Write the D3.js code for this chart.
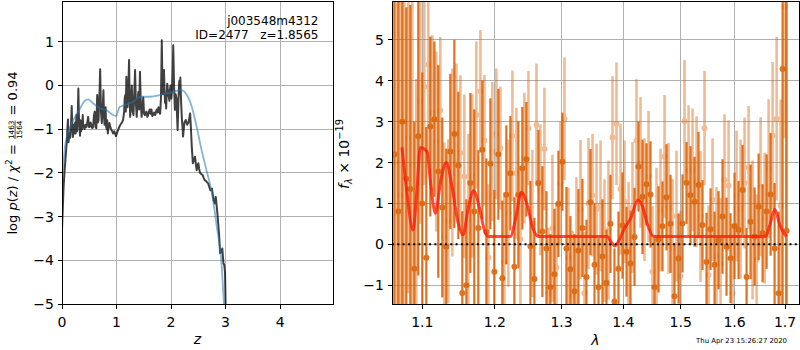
<!DOCTYPE html>
<html>
<head>
<meta charset="utf-8">
<script src="https://cdn.jsdelivr.net/npm/d3@7"></script>
<style>
  body { margin: 0; background: #fff; }
  svg { font-family: "DejaVu Sans", sans-serif; }
  text { white-space: pre; }
</style>
</head>
<body>
<svg id="fig" width="800" height="350"></svg>
<script>
// ---- left panel: log p(z), [z, log p] ----
const pzCurve = [[0.000, -3.30], [0.015, -2.80], [0.030, -2.30], [0.045, -2.00], [0.060, -1.75],
    [0.075, -1.50], [0.090, -1.25], [0.100, -0.95], [0.110, -0.78], [0.120, -1.30],
    [0.135, -1.10], [0.150, -1.20], [0.165, -0.90], [0.178, -0.47], [0.190, -1.00],
    [0.200, -1.18], [0.212, -0.90], [0.225, -1.10], [0.240, -0.85], [0.250, -1.10],
    [0.265, -0.68], [0.275, -1.05], [0.285, -0.90], [0.300, -0.07], [0.310, -0.70],
    [0.320, -0.95], [0.330, -1.15], [0.340, -0.80], [0.350, -1.05], [0.360, -0.95],
    [0.370, -1.00], [0.380, -0.68], [0.390, -0.95], [0.400, -0.92], [0.415, -1.00],
    [0.430, -0.90], [0.450, -0.95], [0.465, -0.85], [0.480, -0.72], [0.495, -0.95],
    [0.510, -0.95], [0.525, -0.85], [0.540, -0.92], [0.555, -0.98], [0.570, -0.95],
    [0.585, -0.70], [0.600, -0.60], [0.615, -0.95], [0.630, -0.98], [0.645, -0.22],
    [0.655, -0.85], [0.670, -0.80], [0.680, -0.40], [0.690, -0.10], [0.700, 0.37],
    [0.710, -0.30], [0.715, -0.60], [0.730, -0.86], [0.745, -0.55], [0.760, -0.11],
    [0.770, -0.70], [0.780, -0.90], [0.790, -0.60], [0.800, -0.50], [0.810, -0.95],
    [0.820, -1.00], [0.830, -0.80], [0.840, -1.10], [0.855, -0.95], [0.870, -0.86],
    [0.885, -0.95], [0.900, -1.00], [0.920, -1.05], [0.940, -1.10], [0.960, -1.05],
    [0.990, -1.16], [1.020, -1.05], [1.050, -0.95], [1.080, -0.88], [1.100, -0.85],
    [1.120, -0.79], [1.140, -0.60], [1.150, -0.30], [1.160, -0.22], [1.170, -0.60],
    [1.180, 0.20], [1.190, -0.20], [1.200, -0.50], [1.215, -0.10], [1.230, 0.58],
    [1.240, -0.30], [1.250, -0.72], [1.265, -0.40], [1.280, 0.00], [1.295, -0.60],
    [1.310, -0.68], [1.325, -0.20], [1.340, 0.35], [1.355, -0.40], [1.370, -0.72],
    [1.385, -0.40], [1.400, -0.15], [1.415, -0.55], [1.430, 0.31], [1.445, -0.40],
    [1.460, -0.72], [1.475, -0.50], [1.490, -0.27], [1.505, -0.65], [1.520, -0.68],
    [1.535, -0.62], [1.550, -0.60], [1.565, -0.72], [1.580, -0.68], [1.595, -0.60],
    [1.610, -0.55], [1.625, -0.65], [1.640, -0.55], [1.655, -0.70], [1.670, -0.68],
    [1.690, -0.62], [1.710, -0.68], [1.725, -0.60], [1.740, -0.55], [1.755, -0.62],
    [1.770, -0.50], [1.785, -0.60], [1.800, -0.65], [1.815, -0.30], [1.830, 1.03],
    [1.840, 0.20], [1.850, -0.20], [1.860, -0.05], [1.870, 0.35], [1.880, -0.10],
    [1.890, -0.40], [1.900, -0.30], [1.910, -0.53], [1.920, -0.20], [1.930, 0.04],
    [1.950, -0.20], [1.970, -0.35], [1.980, -0.10], [1.990, 0.00], [2.005, -0.30],
    [2.020, -0.10], [2.030, 0.30], [2.040, 0.92], [2.055, 0.00], [2.070, -0.56],
    [2.085, -0.20], [2.100, -0.30], [2.110, -0.70], [2.120, -1.02], [2.135, -0.40],
    [2.150, 0.10], [2.160, -0.20], [2.170, 0.18], [2.185, -0.40], [2.200, -0.80],
    [2.210, -0.95], [2.220, -1.17], [2.245, -0.85], [2.270, -0.79], [2.295, -0.90],
    [2.320, -0.85], [2.335, -0.75], [2.350, -0.64], [2.365, -1.00], [2.380, -1.40],
    [2.400, -1.78], [2.420, -1.70], [2.440, -1.63], [2.455, -1.80], [2.470, -1.94],
    [2.485, -1.85], [2.500, -1.78], [2.515, -1.90], [2.530, -2.00], [2.555, -2.03],
    [2.580, -2.05], [2.600, -2.12], [2.620, -2.17], [2.650, -2.20], [2.680, -2.24],
    [2.700, -2.32], [2.720, -2.40], [2.750, -2.36], [2.765, -2.50], [2.780, -2.62],
    [2.800, -2.70], [2.820, -2.55], [2.850, -2.93], [2.880, -3.39], [2.900, -3.84],
    [2.920, -3.80], [2.940, -3.73], [2.960, -4.07], [2.975, -4.10], [2.990, -4.28],
    [3.000, -5.00], [3.010, -5.50]];
const pzSmooth = [[0.00, -2.20], [0.01, -2.09], [0.055, -1.40], [0.15, -0.95], [0.24, -0.72],
    [0.33, -0.53], [0.42, -0.35], [0.48, -0.32], [0.57, -0.41], [0.70, -0.53],
    [0.82, -0.57], [0.94, -0.68], [0.99, -0.70], [1.06, -0.49], [1.15, -0.45],
    [1.31, -0.37], [1.43, -0.26], [1.61, -0.26], [1.80, -0.22], [1.92, -0.18],
    [2.04, -0.15], [2.18, -0.11], [2.29, -0.22], [2.38, -0.49], [2.47, -0.95],
    [2.56, -1.48], [2.65, -1.94], [2.75, -2.47], [2.84, -3.24], [2.93, -4.15],
    [2.97, -5.00], [2.99, -5.40]];
const zTicks = [0, 1, 2, 3, 4];
const pzTicks = [-5, -4, -3, -2, -1, 0, 1];

// ---- right panel: spectrum, two grism sets ----
const waveA = [1.0637, 1.0688, 1.0739, 1.0791, 1.0843, 1.0895, 1.0947, 1.1000, 1.1053, 1.1106,
    1.1160, 1.1213, 1.1267, 1.1321, 1.1376, 1.1431, 1.1486, 1.1541, 1.1597, 1.1653,
    1.1708, 1.1765, 1.1822, 1.1879, 1.1936, 1.1993, 1.2051, 1.2109, 1.2167, 1.2226,
    1.2285, 1.2344, 1.2403, 1.2463, 1.2524, 1.2584, 1.2645, 1.2705, 1.2767, 1.2828,
    1.2890, 1.2952, 1.3014, 1.3077, 1.3140, 1.3203, 1.3267, 1.3331, 1.3395, 1.3460,
    1.3525, 1.3590, 1.3655, 1.3721, 1.3787, 1.3853, 1.3920, 1.3987, 1.4055, 1.4122,
    1.4190, 1.4258, 1.4327, 1.4396, 1.4465, 1.4535, 1.4605, 1.4675, 1.4746, 1.4817,
    1.4888, 1.4960, 1.5032, 1.5104, 1.5177, 1.5250, 1.5323, 1.5397, 1.5471, 1.5546,
    1.5621, 1.5696, 1.5771, 1.5847, 1.5924, 1.6000, 1.6077, 1.6155, 1.6233, 1.6311,
    1.6390, 1.6469, 1.6548, 1.6628, 1.6708, 1.6788, 1.6869, 1.6950, 1.7032];
const fluxA = [2.2, 0.8, 3.0, 1.6, 1.35, -0.6, 2.64, 1.0, -0.33, 2.88,
    3.06, 1.78, 0.9, -0.06, 2.27, 2.7, 1.93, -1.19, -1.0, 1.5,
    0.8, 0.4, 2.31, 0.3, 1.97, -0.67, 2.2, -0.83, 1.21, 1.74,
    -0.55, 1.21, 1.86, 2.08, -0.05, -0.85, 1.5, 0.31, -0.1, -1.05,
    -0.73, 0.99, 2.02, -0.1, -0.61, -1.15, -0.15, 0.4, -0.8, 1.03,
    -0.5, -1.05, -0.3, -0.94, 0.5, -1.4, -0.6, 0.46, -0.18, -0.47,
    0.18, 1.9, 1.16, 1.47, 1.22, -1.05, 0.12, 0.44, 1.15, 0.5,
    -1.27, -0.35, 0.51, 1.5, 1.2, 1.04, 1.45, 0.47, -0.43, 0.37,
    -0.5, 0.1, 0.68, -0.06, -0.34, 0.45, 0.35, 1.33, -0.8, 0.55,
    0.19, 0.92, 0.27, 0.8, 1.22, -0.1, -1.2, 4.29, 0.33];
const errA = [6.0, 5.5, 5.0, 4.2, 4.5, 3.6, 3.4, 3.2, 3.2, 2.2,
    1.9, 2.6, 2.2, 2.4, 1.9, 2.3, 1.8, 2.0, 2.1, 2.2,
    2.5, 1.9, 1.7, 1.8, 1.6, 2.0, 1.6, 1.9, 1.7, 1.4,
    1.7, 1.8, 1.5, 1.4, 1.6, 1.5, 1.3, 1.6, 1.4, 1.3,
    1.6, 1.3, 1.2, 1.5, 1.3, 1.4, 1.5, 1.2, 1.4, 1.3,
    1.5, 1.2, 1.4, 1.3, 1.2, 1.3, 1.4, 1.3, 1.1, 1.3,
    1.2, 1.1, 1.4, 1.0, 1.3, 1.2, 1.3, 1.1, 1.3, 1.2,
    1.3, 1.1, 1.2, 1.0, 1.2, 1.1, 1.3, 1.1, 1.2, 1.0,
    1.3, 1.2, 1.4, 1.2, 1.1, 1.3, 1.2, 1.1, 1.2, 1.4,
    1.2, 1.3, 1.2, 1.4, 1.5, 1.6, 2.0, 6.5, 7.0];

const waveB = [1.0663, 1.0714, 1.0765, 1.0817, 1.0869, 1.0921, 1.0974, 1.1027, 1.1080, 1.1133,
    1.1187, 1.1240, 1.1294, 1.1349, 1.1404, 1.1459, 1.1514, 1.1569, 1.1625, 1.1681,
    1.1737, 1.1794, 1.1851, 1.1908, 1.1965, 1.2022, 1.2080, 1.2138, 1.2197, 1.2256,
    1.2315, 1.2374, 1.2433, 1.2494, 1.2554, 1.2615, 1.2675, 1.2736, 1.2798, 1.2859,
    1.2921, 1.2983, 1.3046, 1.3109, 1.3172, 1.3235, 1.3299, 1.3363, 1.3428, 1.3493,
    1.3558, 1.3623, 1.3688, 1.3754, 1.3820, 1.3887, 1.3954, 1.4021, 1.4089, 1.4156,
    1.4224, 1.4293, 1.4362, 1.4431, 1.4500, 1.4570, 1.4640, 1.4711, 1.4782, 1.4853,
    1.4924, 1.4996, 1.5068, 1.5141, 1.5214, 1.5287, 1.5360, 1.5434, 1.5509, 1.5583,
    1.5658, 1.5734, 1.5809, 1.5886, 1.5962, 1.6039, 1.6116, 1.6194, 1.6272, 1.6350,
    1.6429, 1.6508, 1.6588, 1.6668, 1.6748, 1.6829, 1.6910, 1.6991];
const fluxB = [2.0, 1.2, 3.0, 2.6, 1.93, 0.84, 3.5, 3.85, 4.4, 3.21,
    2.51, 3.27, 0.19, 0.57, 2.0, 2.72, 2.23, 1.66, 0.6, 1.67,
    3.16, 3.74, 2.54, -0.33, 2.27, 2.7, 2.35, -0.43, 0.76, 2.65,
    1.74, 0.12, 2.11, 2.84, 0.51, 2.92, 1.33, 2.33, -1.2, 0.39,
    -0.57, 1.5, 3.07, -0.32, -1.27, -0.16, 0.85, -1.2, 1.0, 1.2,
    0.86, 0.94, 0.09, 0.35, 2.61, 2.95, 1.35, 1.04, -0.18, 0.9,
    2.54, 2.0, 1.09, 1.66, -0.67, 0.17, 0.84, 2.15, 0.88, -0.1,
    0.69, -0.78, 3.01, 1.8, 1.82, 1.53, 0.68, 2.84, -0.75, 1.09,
    -0.3, -0.47, 1.58, 1.43, -1.2, 1.18, 0.86, 1.5, 1.88, 0.35,
    -0.38, 1.41, 0.64, 1.85, 2.66, 3.07, 0.94, 5.8];
const errB = [5.5, 5.0, 4.5, 3.8, 4.0, 3.2, 3.0, 2.4, 2.3, 1.9,
    2.2, 1.8, 2.3, 2.0, 2.3, 1.7, 1.9, 2.0, 2.1, 2.0,
    1.8, 1.5, 1.6, 1.8, 1.7, 1.6, 1.5, 1.7, 1.8, 1.6,
    1.6, 1.8, 1.6, 1.4, 1.8, 1.5, 1.6, 1.5, 1.6, 1.8,
    1.6, 1.5, 1.5, 1.7, 1.6, 1.8, 1.7, 1.5, 1.6, 1.5,
    1.6, 1.6, 1.5, 1.7, 1.5, 1.5, 1.6, 1.5, 1.7, 1.6,
    1.5, 1.6, 1.5, 1.6, 1.6, 1.7, 1.5, 1.5, 1.6, 1.7,
    1.6, 1.6, 1.5, 1.6, 1.5, 1.6, 1.6, 1.4, 1.7, 1.5,
    1.7, 1.6, 1.6, 1.6, 1.7, 1.6, 1.7, 1.6, 1.5, 1.7,
    1.6, 1.7, 1.6, 1.7, 1.8, 2.0, 2.6, 3.2];

const modelWave = [1.0735, 1.0791, 1.0878, 1.0925, 1.0974, 1.1062, 1.1110, 1.1173, 1.1250, 1.1321,
    1.1400, 1.1480, 1.1551, 1.1620, 1.1699, 1.1780, 1.1850, 1.1911, 1.2225, 1.2300,
    1.2388, 1.2470, 1.2560, 1.2648, 1.3730, 1.3800, 1.3857, 1.3930, 1.4008, 1.4130,
    1.4251, 1.4320, 1.4420, 1.4521, 1.6605, 1.6700, 1.6790, 1.6900, 1.7025];
const modelFlux = [2.37, 1.40, 0.35, 1.20, 2.37, 2.27, 1.50, 0.76, 1.60, 2.00,
    1.40, 0.55, 0.23, 0.85, 1.31, 0.90, 0.35, 0.19, 0.19, 0.60,
    1.27, 1.00, 0.40, 0.19, 0.19, 0.05, -0.04, 0.10, 0.35, 0.65,
    1.09, 0.95, 0.45, 0.19, 0.19, 0.50, 0.86, 0.45, 0.19];
const waveTicks = [1.1, 1.2, 1.3, 1.4, 1.5, 1.6, 1.7];
const fluxTicks = [-1, 0, 1, 2, 3, 4, 5];

const fieldName = 'j003548m4312';
const objectLine = 'ID=2477   z=1.8565';
const stamp = 'Thu Apr 23 15:26:27 2020';

// ---------------------------------------------------------------
const svg = d3.select('#fig');
const gridColor = '#b0b0b0';
const fontSize = 14;

const pL = { left: 62, right: 333, top: 1, bottom: 304 };
const pR = { left: 392, right: 799, top: 1, bottom: 304 };

const xL = d3.scaleLinear().domain([0, 4.97]).range([pL.left, pL.right]);
const yL = d3.scaleLinear().domain([-5, 1.93]).range([pL.bottom, pL.top]);
const xR = d3.scaleLog().domain([1.0607, 1.7287]).range([pR.left, pR.right]);
const yR = d3.scaleLinear().domain([-1.46, 5.95]).range([pR.bottom, pR.top]);

const defs = svg.append('defs');
[['clipL', pL], ['clipR', pR]].forEach(([id, p]) => {
    defs.append('clipPath').attr('id', id).append('rect')
        .attr('x', p.left).attr('y', p.top)
        .attr('width', p.right - p.left).attr('height', p.bottom - p.top);
});

function grid(p, x, y, xt, yt) {
    const g = svg.append('g').attr('shape-rendering', 'crispEdges');
    g.selectAll('.gx').data(xt).enter().append('line')
        .attr('x1', d => x(d)).attr('x2', d => x(d))
        .attr('y1', p.top).attr('y2', p.bottom)
        .attr('stroke', gridColor).attr('stroke-width', 1);
    g.selectAll('.gy').data(yt).enter().append('line')
        .attr('x1', p.left).attr('x2', p.right)
        .attr('y1', d => y(d)).attr('y2', d => y(d))
        .attr('stroke', gridColor).attr('stroke-width', 1);
}

function frame(p, x, y, xt, yt, fx, fy) {
    const g = svg.append('g');
    g.append('rect')
        .attr('x', p.left).attr('y', p.top)
        .attr('width', p.right - p.left).attr('height', p.bottom - p.top)
        .attr('fill', 'none').attr('stroke', '#000').attr('stroke-width', 1)
        .attr('shape-rendering', 'crispEdges');
    const tick = 4.5;
    g.selectAll('.tx').data(xt).enter().append('line')
        .attr('x1', d => x(d)).attr('x2', d => x(d))
        .attr('y1', p.bottom).attr('y2', p.bottom + tick)
        .attr('stroke', '#000').attr('shape-rendering', 'crispEdges');
    g.selectAll('.lx').data(xt).enter().append('text')
        .attr('x', d => x(d)).attr('y', p.bottom + 22.5)
        .attr('text-anchor', 'middle').attr('font-size', fontSize)
        .text(fx);
    g.selectAll('.ty').data(yt).enter().append('line')
        .attr('x1', p.left - tick).attr('x2', p.left)
        .attr('y1', d => y(d)).attr('y2', d => y(d))
        .attr('stroke', '#000').attr('shape-rendering', 'crispEdges');
    g.selectAll('.ly').data(yt).enter().append('text')
        .attr('x', p.left - 8).attr('y', d => y(d))
        .attr('dy', '0.36em')
        .attr('text-anchor', 'end').attr('font-size', fontSize)
        .text(fy);
}

// lay out a small piece of "math" text on one baseline, returns width
function mathText(g, pieces, size) {
    let x = 0;
    pieces.forEach(p => {
        if (p.frac) {
            const fs = size * 0.56;
            const num = g.append('text').attr('font-size', fs).text(p.frac[0]);
            const den = g.append('text').attr('font-size', fs).text(p.frac[1]);
            const w = Math.max(num.node().getComputedTextLength(), den.node().getComputedTextLength());
            num.attr('x', x + 1 + w / 2).attr('y', -3.0).attr('text-anchor', 'middle');
            den.attr('x', x + 1 + w / 2).attr('y', 5.0).attr('text-anchor', 'middle');
            g.append('line')
                .attr('x1', x + 1).attr('x2', x + 1 + w)
                .attr('y1', -1.9).attr('y2', -1.9)
                .attr('stroke', '#000').attr('stroke-width', 0.7);
            x += w + 2;
            return;
        }
        const t = g.append('text')
            .attr('x', x).attr('y', p.dy || 0)
            .attr('font-size', size * (p.scale || 1))
            .attr('font-style', p.italic ? 'italic' : null)
            .text(p.t);
        x += t.node().getComputedTextLength();
    });
    return x;
}

function rotatedLabel(cx, cy, pieces, size) {
    const outer = svg.append('g');
    const inner = outer.append('g');
    const w = mathText(inner, pieces, size);
    outer.attr('transform', `translate(${cx},${cy}) rotate(-90)`);
    inner.attr('transform', `translate(${-w / 2},0)`);
}

// ---------------- left panel ----------------
grid(pL, xL, yL, zTicks, pzTicks);

const gL = svg.append('g').attr('clip-path', 'url(#clipL)');
gL.append('path')
    .datum(pzCurve)
    .attr('d', d3.line().x(d => xL(d[0])).y(d => yL(d[1])))
    .attr('fill', 'none')
    .attr('stroke', '#000').attr('stroke-opacity', 0.75)
    .attr('stroke-width', 2).attr('stroke-linejoin', 'round');
gL.append('path')
    .datum(pzSmooth)
    .attr('d', d3.line().curve(d3.curveMonotoneX).x(d => xL(d[0])).y(d => yL(d[1])))
    .attr('fill', 'none')
    .attr('stroke', '#1f77b4').attr('stroke-opacity', 0.55)
    .attr('stroke-width', 1.8);

frame(pL, xL, yL, zTicks, pzTicks, d3.format('d'), d3.format('d'));

svg.append('text').attr('x', 318.5).attr('y', 24.5)
    .attr('text-anchor', 'end').attr('font-size', 12).text(fieldName);
svg.append('text').attr('x', 318.5).attr('y', 39)
    .attr('text-anchor', 'end').attr('font-size', 12).text(objectLine);

svg.append('text').attr('x', (pL.left + pL.right) / 2).attr('y', 344)
    .attr('text-anchor', 'middle').attr('font-size', fontSize)
    .attr('font-style', 'italic').text('z');

rotatedLabel(17, 153, [
    { t: 'log ' }, { t: 'p', italic: true }, { t: '(' }, { t: 'z', italic: true }, { t: ')' },
    { t: ' / ' }, { t: 'χ', italic: true }, { t: '2', scale: 0.7, dy: -5.5 },
    { t: ' = ' }, { frac: ['1463', '1564'] }, { t: ' = 0.94' }
], 13);

// ---------------- right panel ----------------
grid(pR, xR, yR, waveTicks, fluxTicks);

const orange = '#d95f02';
const gR = svg.append('g').attr('clip-path', 'url(#clipR)');

function spectrum(wave, flux, err, opacity, width) {
    const data = d3.zip(wave, flux, err);
    const g = gR.append('g').attr('opacity', opacity);
    g.selectAll('line').data(data).enter().append('line')
        .attr('x1', d => xR(d[0])).attr('x2', d => xR(d[0]))
        .attr('y1', d => yR(d[1] - d[2])).attr('y2', d => yR(d[1] + d[2]))
        .attr('stroke', orange).attr('stroke-width', width);
    g.selectAll('circle').data(data).enter().append('circle')
        .attr('cx', d => xR(d[0])).attr('cy', d => yR(d[1]))
        .attr('r', 3).attr('fill', orange);
}
spectrum(waveB, fluxB, errB, 0.42, 2.6);
spectrum(waveA, fluxA, errA, 0.88, 2.2);

gR.append('path')
    .datum(d3.zip(modelWave, modelFlux))
    .attr('d', d3.line().curve(d3.curveMonotoneX).x(d => xR(d[0])).y(d => yR(d[1])))
    .attr('fill', 'none')
    .attr('stroke', '#ff1a0a').attr('stroke-opacity', 0.78)
    .attr('stroke-width', 3).attr('stroke-linejoin', 'round');

gR.append('line')
    .attr('x1', pR.left).attr('x2', pR.right)
    .attr('y1', yR(0)).attr('y2', yR(0))
    .attr('stroke', '#000').attr('stroke-width', 2)
    .attr('stroke-dasharray', '2,3.3');

frame(pR, xR, yR, waveTicks, fluxTicks, d3.format('.1f'), d3.format('d'));

svg.append('text').attr('x', (pR.left + pR.right) / 2).attr('y', 345)
    .attr('text-anchor', 'middle').attr('font-size', fontSize)
    .attr('font-style', 'italic').text('λ');

rotatedLabel(349, 154, [
    { t: 'f', italic: true }, { t: 'λ', italic: true, scale: 0.7, dy: 3 },
    { t: ' × 10' }, { t: '−19', scale: 0.7, dy: -6 }
], 14);

svg.append('text').attr('x', 787).attr('y', 342.5)
    .attr('text-anchor', 'end').attr('font-size', 6.9).text(stamp);
</script>
</body>
</html>
